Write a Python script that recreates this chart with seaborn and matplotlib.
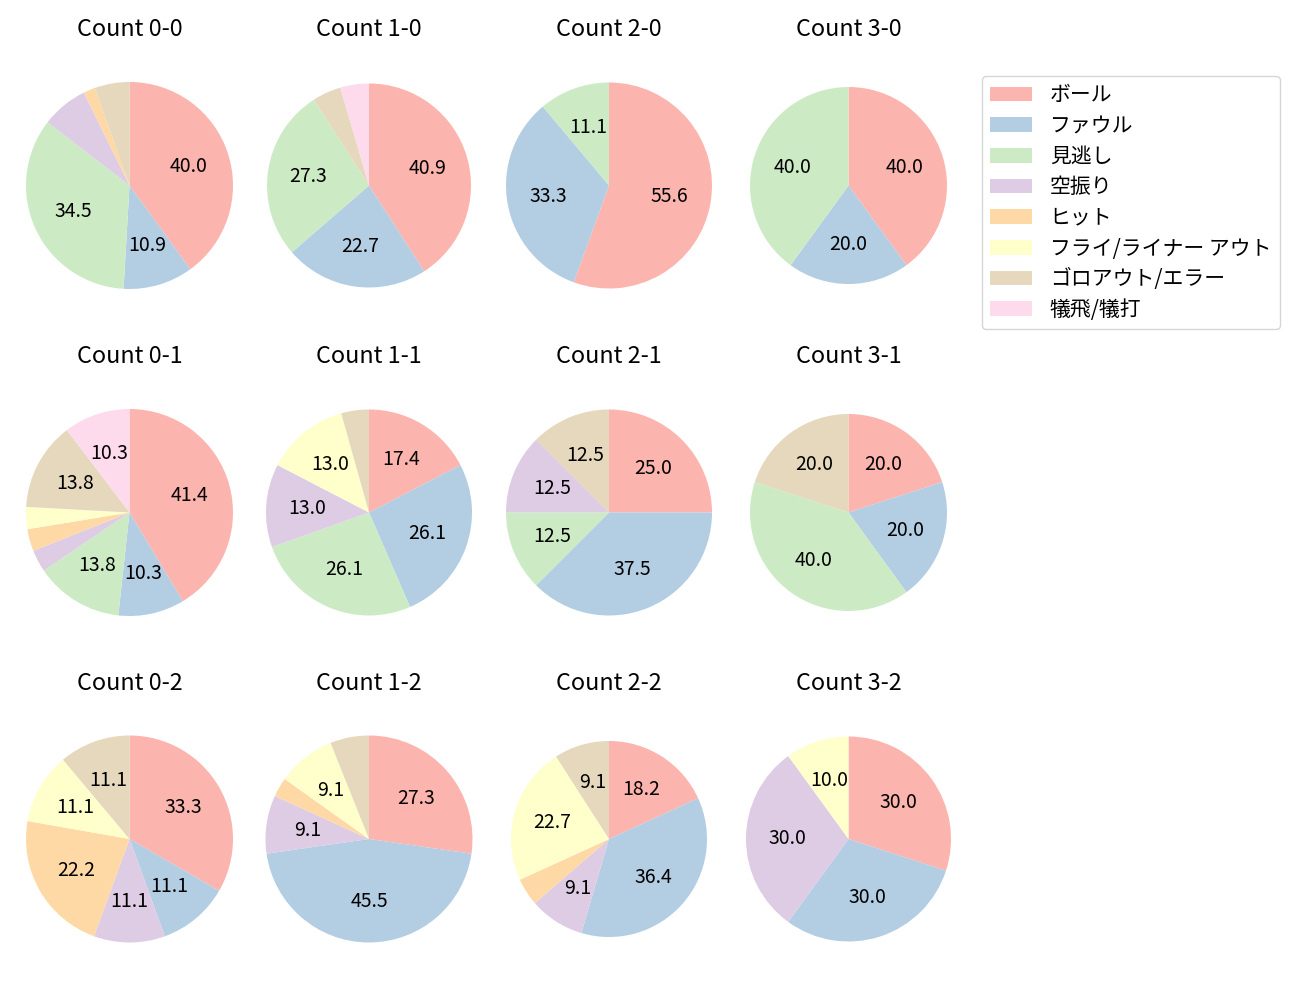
import matplotlib
matplotlib.use("Agg")
import matplotlib.pyplot as plt
from matplotlib.patches import Patch
import seaborn as sns

# ---- data ----
categories = ["ボール", "ファウル", "見逃し", "空振り", "ヒット",
              "フライ/ライナー アウト", "ゴロアウト/エラー", "犠飛/犠打"]
counts = ["0-0", "1-0", "2-0", "3-0",
          "0-1", "1-1", "2-1", "3-1",
          "0-2", "1-2", "2-2", "3-2"]
c_0_0 = [22, 6, 19, 4, 1, 0, 3, 0]
c_1_0 = [9, 5, 6, 0, 0, 0, 1, 1]
c_2_0 = [5, 3, 1, 0, 0, 0, 0, 0]
c_3_0 = [2, 1, 2, 0, 0, 0, 0, 0]
c_0_1 = [12, 3, 4, 1, 1, 1, 4, 3]
c_1_1 = [4, 6, 6, 3, 0, 3, 1, 0]
c_2_1 = [2, 3, 1, 1, 0, 0, 1, 0]
c_3_1 = [1, 1, 2, 0, 0, 0, 1, 0]
c_0_2 = [3, 1, 0, 1, 2, 1, 1, 0]
c_1_2 = [9, 15, 0, 3, 1, 3, 2, 0]
c_2_2 = [4, 8, 0, 2, 1, 5, 2, 0]
c_3_2 = [3, 3, 0, 3, 0, 1, 0, 0]
series = [c_0_0, c_1_0, c_2_0, c_3_0,
          c_0_1, c_1_1, c_2_1, c_3_1,
          c_0_2, c_1_2, c_2_2, c_3_2]

# ---- layout (pixels) ----
W, H = 1300, 1000
col_x = [129.5, 369, 609, 848.5]
row_y = [185.5, 512.5, 839]
title_base = [36, 363, 690]
radius_px = [103.5, 102, 103, 98.5,
             103.5, 103, 103, 98.5,
             103.5, 103.5, 98, 102.5]

sns.set_theme(style="white")
plt.rcParams["font.family"] = ["Noto Sans CJK JP", "DejaVu Sans"]
plt.rcParams["font.size"] = 14
plt.rcParams["text.color"] = "black"

colors = sns.color_palette("Pastel1", 8)

fig = plt.figure(figsize=(13, 10), dpi=100)

def fmt(p):
    return f"{p:.1f}" if p >= 8.5 else ""

for i, (name, vals) in enumerate(zip(counts, series)):
    r, c = divmod(i, 4)
    cx, cy = col_x[c], row_y[r]
    side = 2.5 * radius_px[i]
    ax = fig.add_axes([(cx - side / 2) / W, 1 - (cy + side / 2) / H, side / W, side / H])
    ax.pie(vals, colors=colors, startangle=90, counterclock=False,
           autopct=fmt, pctdistance=0.6,
           wedgeprops={"linewidth": 0},
           textprops={"fontsize": 14, "color": "black"})
    ax.set_xlim(-1.25, 1.25)
    ax.set_ylim(-1.25, 1.25)
    ax.set_aspect("equal")
    fig.text(cx / W, 1 - title_base[r] / H, f"Count {name}", ha="center",
             va="baseline", fontsize=16.8, color="black")

handles = [Patch(facecolor=colors[k], edgecolor="none", label=categories[k])
           for k in range(len(categories))]
fig.legend(handles=handles, loc="upper left", bbox_to_anchor=(982 / W, 1 - 76 / H),
           bbox_transform=fig.transFigure, borderaxespad=0, frameon=True,
           fontsize=15, labelspacing=0.415, handletextpad=0.85,
           edgecolor="#cccccc", fancybox=True)

fig.savefig("out.png", dpi=100)
